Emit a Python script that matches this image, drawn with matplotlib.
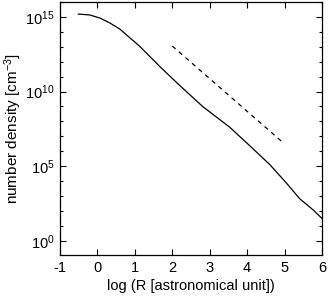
import numpy as np
import matplotlib
matplotlib.use('Agg')
import matplotlib.pyplot as plt
from matplotlib.ticker import FixedLocator, NullFormatter

plt.rcParams['font.family'] = ['Liberation Sans', 'DejaVu Sans']
plt.rcParams['mathtext.fontset'] = 'custom'
plt.rcParams['mathtext.rm'] = 'Liberation Sans'
plt.rcParams['mathtext.it'] = 'Liberation Sans'

# density profile (log R, log n)
log_r = [-0.51, -0.2, 0.07, 0.33, 0.6, 1.13, 1.67, 2.15, 2.82, 3.53,
         4.07, 4.6, 5.05, 5.4, 5.75, 6.0]
log_n = [15.19, 15.13, 14.92, 14.6, 14.18, 13.03, 11.67, 10.52, 8.98, 7.62,
         6.37, 5.12, 3.87, 2.83, 2.1, 1.5]

# reference slope (dashed)
ref_r = [2.0, 4.95]
ref_n = [13.05, 6.6]

x_ticks = [-1, 0, 1, 2, 3, 4, 5, 6]

fig = plt.figure(figsize=(3.32, 3.07), dpi=100)
ax = fig.add_axes([60/332, 1-255/307, 262/332, 253/307])

ax.plot(log_r, 10**np.array(log_n), color='black', lw=0.9)
ax.plot(ref_r, 10**np.array(ref_n), color='black', lw=0.9, ls=(0, (3.5, 3.5)))

ax.set_yscale('log')
ax.set_xlim(-1, 6)
ax.set_ylim(10**-0.95, 10**16)
ax.set_xticks(x_ticks)
ax.set_xticklabels([str(t) for t in x_ticks])
ax.yaxis.set_major_locator(FixedLocator([1e0, 1e5, 1e10, 1e15]))
ax.set_yticklabels(['$10^0$', '$10^5$', '$10^{10}$', '$10^{15}$'])
ax.yaxis.set_minor_locator(FixedLocator([10.0**k for k in range(-1, 17)]))
ax.yaxis.set_minor_formatter(NullFormatter())

ax.tick_params(which='both', direction='in', top=True, right=True, labelsize=10.5, width=0.8)
ax.tick_params(which='major', length=4, pad=4)
ax.tick_params(which='minor', length=2)
for s in ax.spines.values():
    s.set_linewidth(0.9)

ax.set_xlabel('log (R [astronomical unit])', fontsize=10.5, labelpad=3)
ax.set_ylabel('number density [cm$^{-3}$]', fontsize=11, labelpad=1)

fig.savefig('out.png', dpi=100)
